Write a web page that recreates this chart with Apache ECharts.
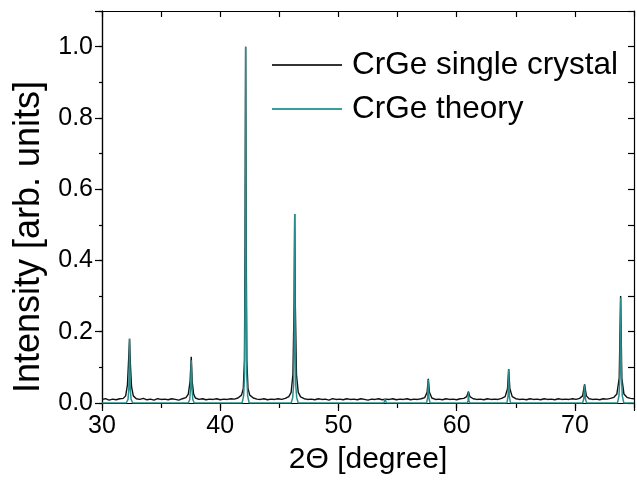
<!DOCTYPE html>
<html>
<head>
<meta charset="utf-8">
<script src="https://cdn.jsdelivr.net/npm/echarts@6/dist/echarts.min.js"></script>
<style>html,body{margin:0;padding:0;background:#fff}#c{width:637px;height:481px}</style>
</head>
<body>
<div id="c"></div>
<script>
// Experimental pattern (2Theta in degrees, normalised intensity)
var expTheta = [30.0,30.3,30.6,30.9,31.2,31.5,31.8,32.0,32.15,32.25,32.33,32.4,32.5,32.65,32.9,33.2,33.5,33.8,34.1,34.4,34.7,35.0,35.3,35.6,35.9,36.2,36.5,36.8,37.1,37.3,37.45,37.55,37.63,37.75,37.9,38.2,38.5,38.8,39.1,39.4,39.7,40.0,40.3,40.6,40.9,41.2,41.5,41.8,41.95,42.05,42.1,42.15,42.2,42.25,42.35,42.5,42.8,43.1,43.4,43.7,44.0,44.3,44.6,44.9,45.2,45.5,45.8,46.0,46.15,46.25,46.3,46.35,46.45,46.6,46.8,47.1,47.4,47.7,48.0,48.3,48.6,48.9,49.2,49.5,49.8,50.1,50.4,50.7,51.0,51.3,51.6,51.9,52.2,52.5,52.8,53.1,53.4,53.7,54.0,54.3,54.6,54.9,55.2,55.5,55.8,56.1,56.4,56.7,57.0,57.3,57.5,57.6,57.7,57.9,58.2,58.5,58.8,59.1,59.4,59.7,60.0,60.3,60.6,60.85,61.0,61.12,61.4,61.7,62.0,62.3,62.6,62.9,63.2,63.5,63.8,64.1,64.3,64.4,64.5,64.7,65.0,65.3,65.6,65.9,66.2,66.5,66.8,67.1,67.4,67.7,68.0,68.3,68.6,68.9,69.2,69.5,69.8,70.1,70.4,70.65,70.82,70.97,71.2,71.5,71.8,72.1,72.4,72.7,73.0,73.3,73.55,73.75,73.87,73.97,74.15,74.4,74.7,75.0];
var expIntensity = [0.010,0.012,0.008,0.011,0.009,0.012,0.013,0.020,0.050,0.120,0.180,0.110,0.045,0.020,0.012,0.010,0.013,0.009,0.011,0.008,0.012,0.010,0.011,0.009,0.012,0.010,0.008,0.012,0.015,0.025,0.060,0.130,0.060,0.025,0.014,0.010,0.012,0.009,0.011,0.010,0.012,0.009,0.011,0.010,0.012,0.011,0.014,0.022,0.040,0.120,0.450,1.000,0.450,0.120,0.040,0.022,0.014,0.011,0.010,0.012,0.009,0.011,0.010,0.012,0.010,0.013,0.018,0.030,0.080,0.280,0.530,0.280,0.080,0.030,0.017,0.012,0.010,0.011,0.009,0.012,0.010,0.011,0.008,0.012,0.010,0.011,0.009,0.012,0.010,0.011,0.009,0.012,0.010,0.008,0.011,0.010,0.012,0.009,0.011,0.010,0.012,0.009,0.011,0.010,0.012,0.009,0.011,0.010,0.012,0.015,0.030,0.068,0.030,0.014,0.010,0.011,0.009,0.012,0.010,0.011,0.009,0.012,0.013,0.018,0.032,0.018,0.012,0.010,0.011,0.009,0.012,0.010,0.011,0.010,0.013,0.018,0.040,0.095,0.040,0.018,0.012,0.010,0.011,0.009,0.012,0.010,0.011,0.009,0.012,0.010,0.011,0.009,0.012,0.010,0.011,0.010,0.012,0.010,0.013,0.020,0.052,0.020,0.012,0.010,0.011,0.009,0.012,0.011,0.013,0.016,0.025,0.070,0.300,0.070,0.025,0.016,0.013,0.012];

// Calculated (theory) pattern
var theoryTheta = [30.0,32.05,32.2,32.27,32.31,32.33,32.35,32.39,32.46,32.6,37.3,37.42,37.49,37.53,37.55,37.57,37.61,37.68,37.8,41.85,41.98,42.06,42.11,42.15,42.19,42.24,42.32,42.45,46.0,46.13,46.21,46.26,46.3,46.34,46.39,46.47,46.6,53.85,53.95,54.05,57.45,57.55,57.6,57.65,57.75,60.9,60.97,61.0,61.03,61.1,64.25,64.35,64.4,64.45,64.55,70.65,70.75,70.82,70.89,70.99,73.6,73.73,73.8,73.85,73.87,73.89,73.94,74.01,74.14,75.0];
var theoryIntensity = [0,0,0.010,0.040,0.120,0.180,0.120,0.040,0.010,0,0,0.010,0.040,0.090,0.120,0.090,0.040,0.010,0,0,0.020,0.080,0.350,1.000,0.350,0.080,0.020,0,0,0.015,0.050,0.200,0.530,0.200,0.050,0.015,0,0,0.012,0,0,0.015,0.065,0.015,0,0,0.008,0.030,0.008,0,0,0.020,0.095,0.020,0,0,0.012,0.050,0.012,0,0,0.020,0.070,0.200,0.295,0.200,0.070,0.020,0,0];

var xTicksMajor = [30,40,50,60,70];
var yTicksMajor = [0.0,0.2,0.4,0.6,0.8,1.0];
var seriesNames = ['CrGe single crystal','CrGe theory'];
var yTitle = 'Intensity [arb. units]';
var xTitle = '2\u0398 [degree]';

function pairs(xs, ys){ var out=[]; for(var i=0;i<xs.length;i++) out.push([xs[i], ys[i]]); return out; }

var FONT = 'Liberation Sans, Arial, sans-serif';
var BLACK = '#111';
var TEAL = '#2a8c8c';
var chart = echarts.init(document.getElementById('c'), null, {renderer:'canvas'});
var axisLine = {show:true, onZero:false, lineStyle:{color:'#000', width:1.2}};
function isMajor(list, v){ for(var i=0;i<list.length;i++){ if(Math.abs(list[i]-v)<1e-6) return true; } return false; }
chart.setOption({
  animation:false,
  backgroundColor:'#fff',
  grid:{left:102, right:1, top:11, bottom:78, containLabel:false},
  legend:{
    orient:'vertical', left:267, top:44, itemWidth:70, itemHeight:2, itemGap:12,
    icon:'rect',
    textStyle:{fontFamily:FONT, fontSize:31.5, color:'#000', padding:[0,0,0,5]},
    data:[{name:seriesNames[0], itemStyle:{color:'#333'}},{name:seriesNames[1], itemStyle:{color:'#3a9e9e'}}]
  },
  graphic:[{
    type:'text', x:29, y:237, rotation:Math.PI/2,
    style:{text:yTitle, font:'36px ' + FONT, fill:'#000', textAlign:'center', textVerticalAlign:'middle'}
  }],
  xAxis:[
    {type:'value', position:'bottom', min:30, max:75, interval:10,
     name:xTitle, nameLocation:'middle', nameGap:42,
     nameTextStyle:{fontFamily:FONT, fontSize:30, color:'#000'},
     axisLine:axisLine,
     axisTick:{show:true, inside:false, length:8, lineStyle:{color:'#000', width:1.2}},
     axisLabel:{fontFamily:FONT, fontSize:25, color:'#000', margin:11,
       formatter:function(v){ return isMajor(xTicksMajor, v) ? String(v) : ''; }},
     splitLine:{show:false}},
    {type:'value', position:'bottom', min:30, max:75, interval:5,
     axisLine:axisLine,
     axisTick:{show:true, inside:false, length:5, lineStyle:{color:'#000', width:1.2}},
     axisLabel:{show:false}, splitLine:{show:false}},
    {type:'value', position:'top', min:30, max:75, interval:5,
     axisLine:axisLine,
     axisTick:{show:true, inside:true, length:6, lineStyle:{color:'#000', width:1.2}},
     axisLabel:{show:false}, splitLine:{show:false}}
  ],
  yAxis:[
    {type:'value', position:'left', min:0, max:1.1, interval:0.2,
     axisLine:axisLine,
     axisTick:{show:true, inside:false, length:7, lineStyle:{color:'#000', width:1.2}},
     axisLabel:{fontFamily:FONT, fontSize:25, color:'#000', margin:9,
       formatter:function(v){ return isMajor(yTicksMajor, v) ? v.toFixed(1) : ''; }},
     splitLine:{show:false}},
    {type:'value', position:'left', min:0, max:1.1, interval:0.1,
     axisLine:axisLine,
     axisTick:{show:true, inside:false, length:3, lineStyle:{color:'#000', width:1.2}},
     axisLabel:{show:false}, splitLine:{show:false}},
    {type:'value', position:'right', min:0, max:1.1, interval:0.1,
     axisLine:axisLine,
     axisTick:{show:true, inside:true, length:6, lineStyle:{color:'#000', width:1.2}},
     axisLabel:{show:false}, splitLine:{show:false}}
  ],
  series:[
    {name:seriesNames[0], type:'line', xAxisIndex:0, yAxisIndex:0, symbol:'none',
     lineStyle:{color:BLACK, width:1.4}, itemStyle:{color:BLACK},
     data:pairs(expTheta, expIntensity), z:2},
    {name:seriesNames[1], type:'line', xAxisIndex:0, yAxisIndex:0, symbol:'none',
     lineStyle:{color:TEAL, width:1.5}, itemStyle:{color:TEAL},
     data:pairs(theoryTheta, theoryIntensity), z:3}
  ]
});
</script>
</body>
</html>
